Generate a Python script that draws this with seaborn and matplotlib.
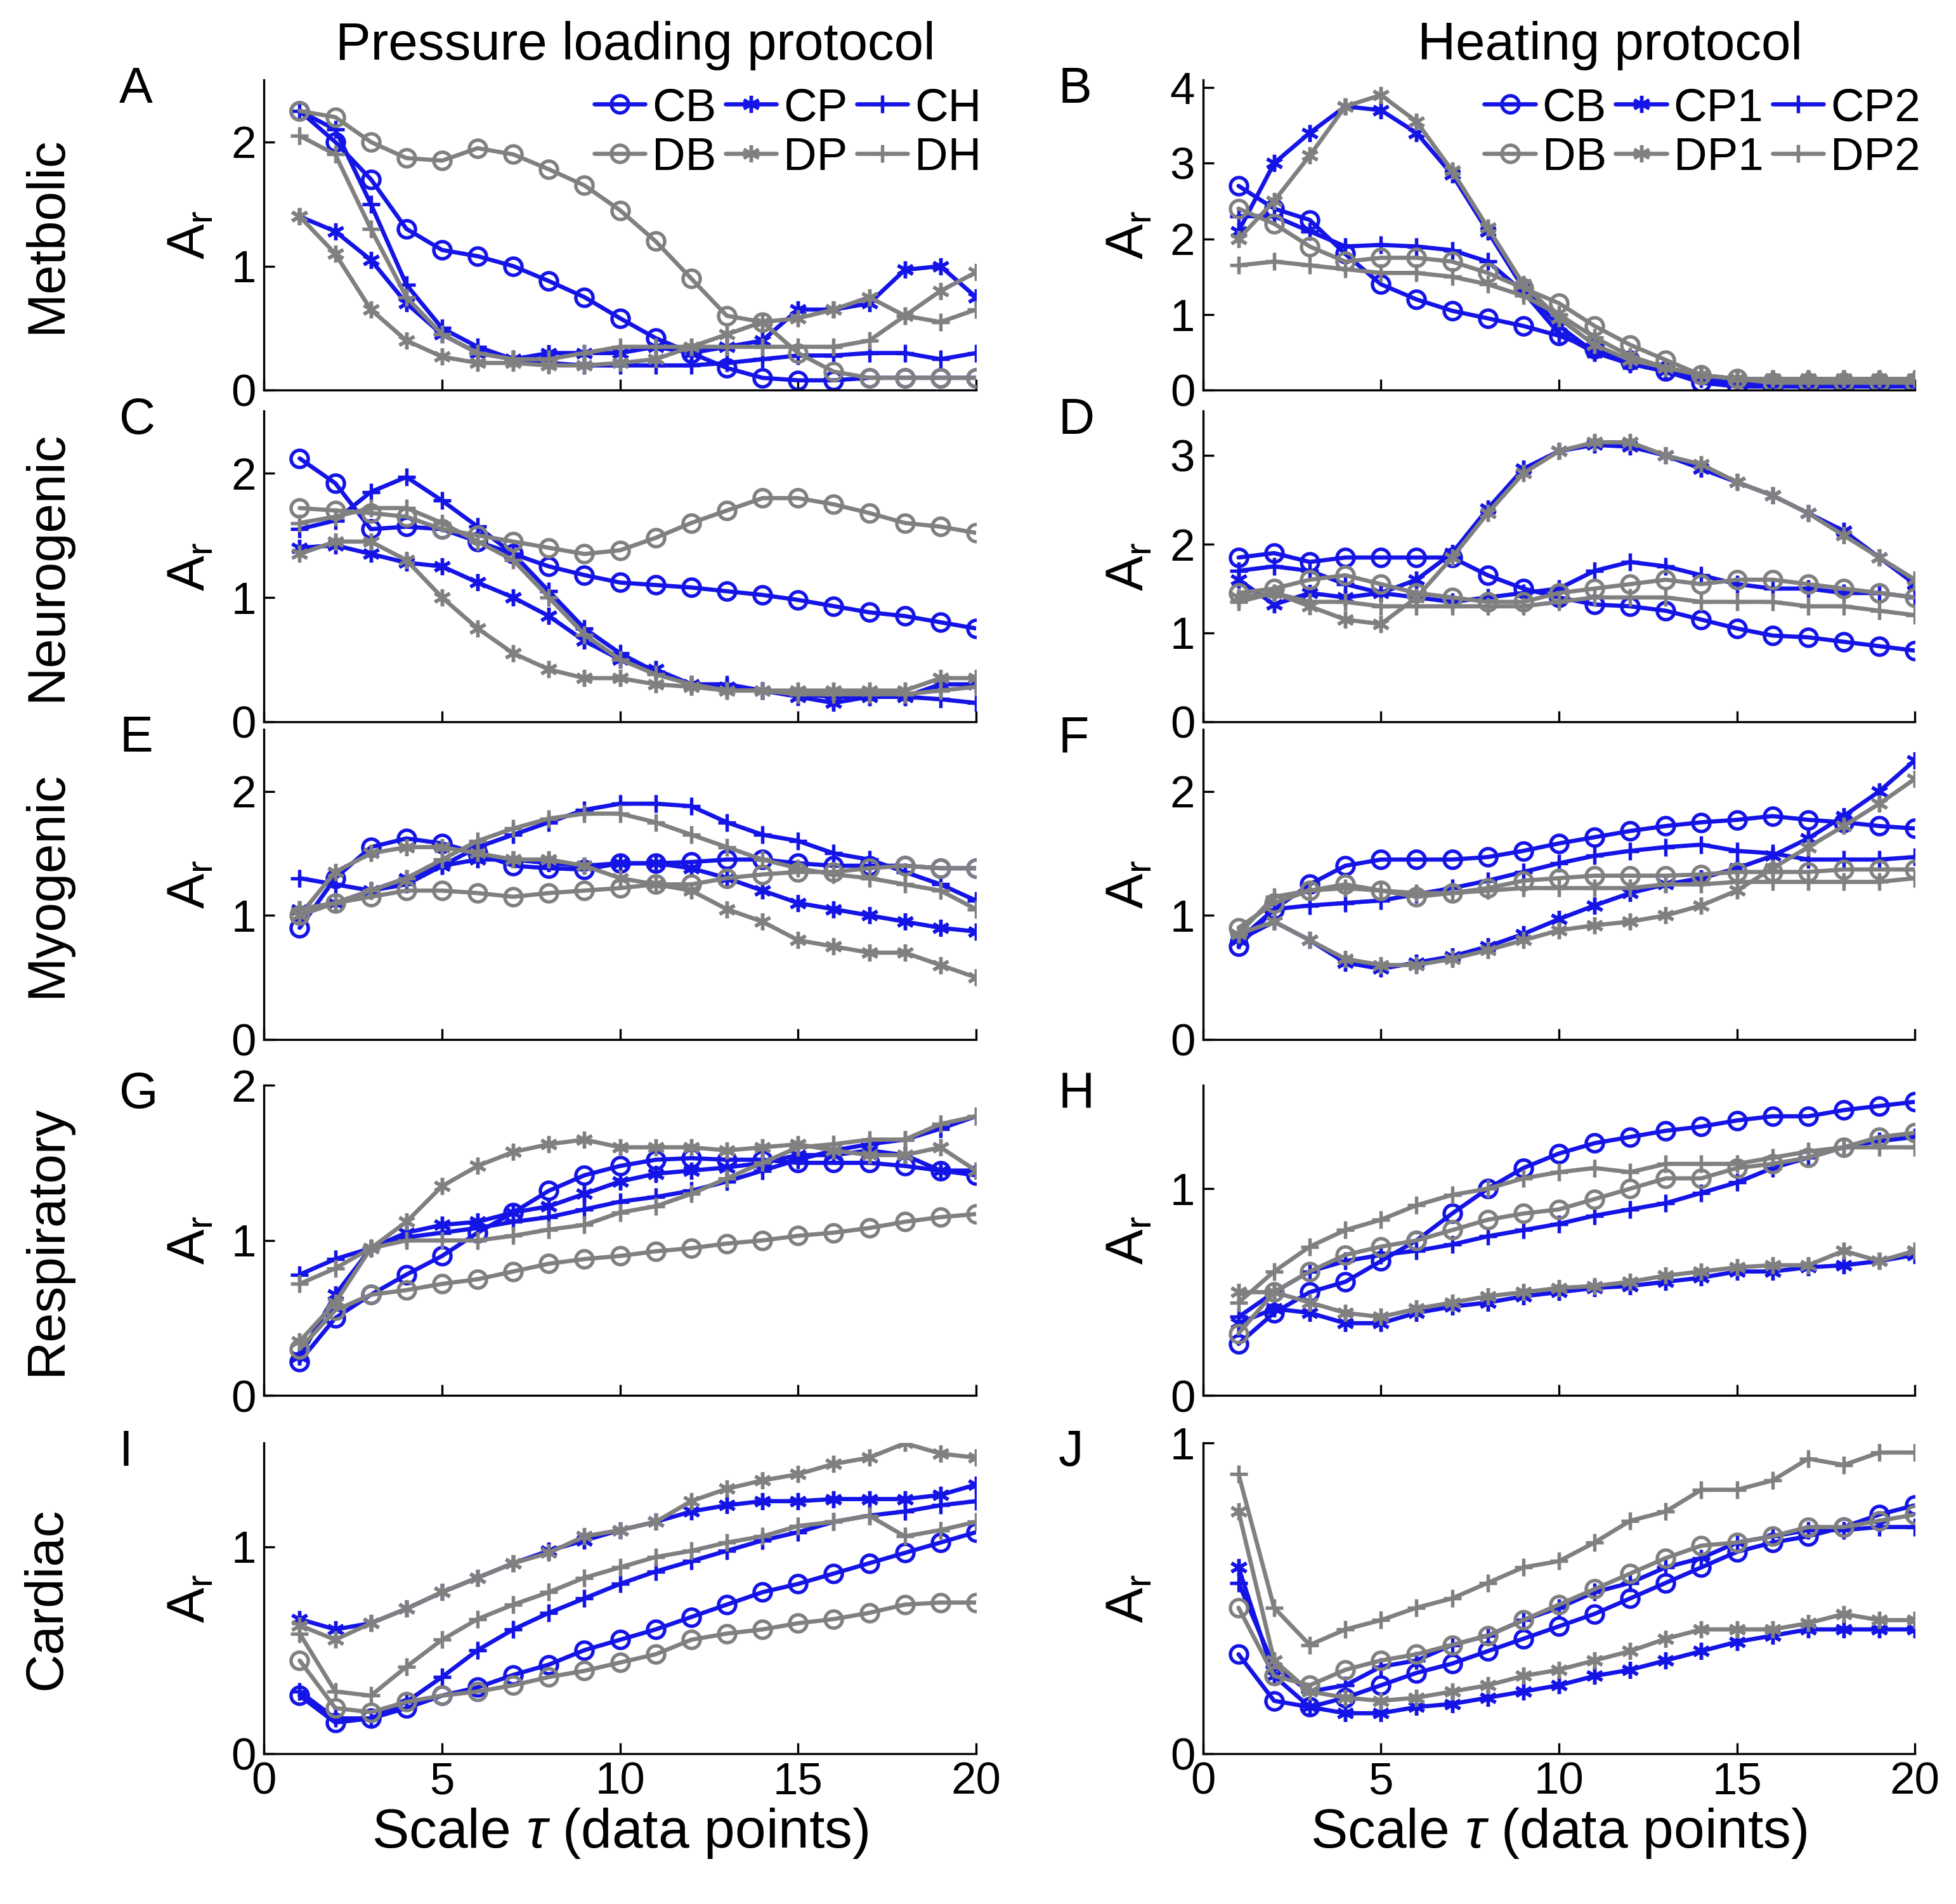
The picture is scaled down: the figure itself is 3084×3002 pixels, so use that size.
import numpy as np
import matplotlib
matplotlib.use("Agg")
import matplotlib.pyplot as plt
import seaborn as sns

sns.set_style("ticks")
plt.rcParams['font.family'] = ['Liberation Sans', 'DejaVu Sans']
plt.rcParams['mathtext.fontset'] = 'custom'
plt.rcParams['mathtext.rm'] = 'Liberation Sans'
plt.rcParams['mathtext.it'] = 'Liberation Sans:italic'
plt.rcParams['text.color'] = 'black'
plt.rcParams['axes.labelcolor'] = 'black'
plt.rcParams['xtick.color'] = 'black'
plt.rcParams['ytick.color'] = 'black'
plt.rcParams['axes.edgecolor'] = 'black'

tau = np.arange(1, 21)

# series names per column
names_left = ["CB", "CP", "CH", "DB", "DP", "DH"]
names_right = ["CB", "CP1", "CP2", "DB", "DP1", "DP2"]

# ---- panel A : metabolic, pressure loading
A = {
    "CB": [2.25, 2.0, 1.7, 1.3, 1.13, 1.08, 1.0, 0.88, 0.75, 0.58, 0.42, 0.3, 0.18, 0.1, 0.08, 0.08, 0.1, 0.1, 0.1, 0.1],
    "CP": [1.4, 1.28, 1.05, 0.7, 0.45, 0.3, 0.25, 0.3, 0.3, 0.3, 0.35, 0.3, 0.35, 0.4, 0.65, 0.65, 0.7, 0.97, 1.0, 0.75],
    "CH": [2.25, 2.1, 1.5, 0.85, 0.5, 0.35, 0.25, 0.22, 0.2, 0.2, 0.2, 0.2, 0.22, 0.25, 0.28, 0.28, 0.3, 0.3, 0.25, 0.3],
    "DB": [2.25, 2.2, 2.0, 1.87, 1.85, 1.95, 1.9, 1.78, 1.65, 1.45, 1.2, 0.9, 0.6, 0.55, 0.3, 0.15, 0.1, 0.1, 0.1, 0.1],
    "DP": [1.4, 1.1, 0.65, 0.4, 0.27, 0.22, 0.22, 0.2, 0.2, 0.22, 0.25, 0.35, 0.45, 0.55, 0.58, 0.65, 0.75, 0.6, 0.8, 0.95],
    "DH": [2.05, 1.9, 1.3, 0.75, 0.45, 0.3, 0.25, 0.25, 0.3, 0.35, 0.35, 0.35, 0.35, 0.35, 0.35, 0.35, 0.4, 0.6, 0.55, 0.65],
}
# ---- panel B : metabolic, heating
B = {
    "CB": [2.7, 2.4, 2.25, 1.8, 1.4, 1.2, 1.05, 0.95, 0.85, 0.72, 0.55, 0.4, 0.25, 0.1, 0.05, 0.05, 0.05, 0.05, 0.05, 0.05],
    "CP1": [2.1, 3.0, 3.4, 3.75, 3.7, 3.4, 2.85, 2.1, 1.35, 0.85, 0.5, 0.35, 0.25, 0.2, 0.15, 0.15, 0.15, 0.15, 0.15, 0.15],
    "CP2": [2.3, 2.3, 2.1, 1.9, 1.92, 1.9, 1.85, 1.7, 1.3, 0.75, 0.5, 0.35, 0.25, 0.15, 0.1, 0.1, 0.1, 0.1, 0.1, 0.1],
    "DB": [2.4, 2.2, 1.9, 1.7, 1.75, 1.75, 1.7, 1.55, 1.35, 1.15, 0.85, 0.6, 0.4, 0.2, 0.15, 0.1, 0.1, 0.1, 0.1, 0.1],
    "DP1": [2.0, 2.5, 3.1, 3.75, 3.9, 3.55, 2.9, 2.15, 1.4, 0.95, 0.6, 0.4, 0.3, 0.2, 0.15, 0.15, 0.15, 0.15, 0.15, 0.15],
    "DP2": [1.65, 1.7, 1.65, 1.6, 1.55, 1.55, 1.5, 1.4, 1.25, 1.0, 0.7, 0.45, 0.3, 0.2, 0.15, 0.15, 0.15, 0.15, 0.15, 0.15],
}
# ---- panel C : neurogenic, pressure loading
C = {
    "CB": [2.12, 1.92, 1.55, 1.57, 1.55, 1.45, 1.35, 1.25, 1.18, 1.12, 1.1, 1.08, 1.05, 1.02, 0.98, 0.93, 0.88, 0.85, 0.8, 0.75],
    "CP": [1.4, 1.42, 1.35, 1.28, 1.25, 1.12, 1.0, 0.85, 0.65, 0.5, 0.42, 0.3, 0.28, 0.25, 0.2, 0.15, 0.2, 0.2, 0.3, 0.3],
    "CH": [1.55, 1.62, 1.85, 1.97, 1.78, 1.57, 1.35, 1.05, 0.75, 0.55, 0.4, 0.3, 0.3, 0.25, 0.22, 0.2, 0.2, 0.2, 0.18, 0.15],
    "DB": [1.72, 1.7, 1.68, 1.65, 1.55, 1.5, 1.45, 1.4, 1.35, 1.38, 1.48, 1.6, 1.7, 1.8, 1.8, 1.75, 1.68, 1.6, 1.57, 1.52],
    "DP": [1.35, 1.45, 1.45, 1.3, 1.0, 0.75, 0.55, 0.42, 0.35, 0.35, 0.3, 0.28, 0.25, 0.25, 0.25, 0.25, 0.25, 0.25, 0.35, 0.35],
    "DH": [1.6, 1.65, 1.72, 1.72, 1.6, 1.45, 1.3, 1.0, 0.7, 0.5, 0.38, 0.3, 0.25, 0.25, 0.22, 0.22, 0.22, 0.22, 0.25, 0.28],
}
# ---- panel D : neurogenic, heating
D = {
    "CB": [1.85, 1.9, 1.8, 1.85, 1.85, 1.85, 1.85, 1.65, 1.5, 1.4, 1.32, 1.3, 1.25, 1.15, 1.05, 0.97, 0.95, 0.9, 0.85, 0.8],
    "CP1": [1.6, 1.32, 1.45, 1.4, 1.45, 1.6, 1.9, 2.4, 2.85, 3.05, 3.12, 3.1, 3.0, 2.85, 2.7, 2.55, 2.35, 2.15, 1.85, 1.55],
    "CP2": [1.7, 1.75, 1.7, 1.55, 1.45, 1.4, 1.35, 1.4, 1.45, 1.5, 1.7, 1.8, 1.75, 1.65, 1.55, 1.5, 1.5, 1.45, 1.45, 1.4],
    "DB": [1.45, 1.5, 1.6, 1.65, 1.55, 1.45, 1.4, 1.35, 1.35, 1.45, 1.5, 1.55, 1.6, 1.55, 1.6, 1.6, 1.55, 1.5, 1.45, 1.4],
    "DP1": [1.4, 1.45, 1.3, 1.15, 1.1, 1.4, 1.85, 2.35, 2.8, 3.05, 3.15, 3.15, 3.0, 2.9, 2.7, 2.55, 2.35, 2.1, 1.85, 1.6],
    "DP2": [1.35, 1.45, 1.35, 1.35, 1.3, 1.3, 1.3, 1.3, 1.3, 1.35, 1.4, 1.4, 1.4, 1.35, 1.35, 1.35, 1.3, 1.3, 1.25, 1.2],
}
# ---- panel E : myogenic, pressure loading
E = {
    "CB": [0.9, 1.3, 1.55, 1.62, 1.58, 1.5, 1.4, 1.38, 1.37, 1.42, 1.42, 1.43, 1.45, 1.45, 1.42, 1.4, 1.4, 1.4, 1.38, 1.38],
    "CP": [1.05, 1.1, 1.2, 1.3, 1.4, 1.45, 1.45, 1.42, 1.4, 1.42, 1.42, 1.38, 1.3, 1.2, 1.1, 1.05, 1.0, 0.95, 0.9, 0.87],
    "CH": [1.3, 1.25, 1.2, 1.25, 1.4, 1.55, 1.65, 1.75, 1.85, 1.9, 1.9, 1.88, 1.75, 1.65, 1.6, 1.5, 1.45, 1.35, 1.25, 1.12],
    "DB": [1.0, 1.1, 1.15, 1.2, 1.2, 1.18, 1.15, 1.18, 1.2, 1.22, 1.25, 1.25, 1.3, 1.33, 1.35, 1.35, 1.38, 1.4, 1.38, 1.38],
    "DP": [1.0, 1.35, 1.5, 1.55, 1.55, 1.5, 1.45, 1.45, 1.4, 1.3, 1.25, 1.2, 1.05, 0.95, 0.8, 0.75, 0.7, 0.7, 0.6, 0.5],
    "DH": [1.05, 1.1, 1.2, 1.3, 1.45, 1.6, 1.7, 1.78, 1.82, 1.82, 1.75, 1.65, 1.55, 1.45, 1.38, 1.33, 1.3, 1.25, 1.2, 1.05],
}
# ---- panel F : myogenic, heating
F = {
    "CB": [0.75, 1.05, 1.25, 1.4, 1.45, 1.45, 1.45, 1.47, 1.52, 1.58, 1.63, 1.68, 1.72, 1.75, 1.77, 1.8, 1.77, 1.75, 1.72, 1.7],
    "CP1": [0.8, 0.95, 0.8, 0.62, 0.57, 0.62, 0.67, 0.75, 0.85, 0.97, 1.08, 1.18, 1.25, 1.3, 1.38, 1.48, 1.62, 1.8, 2.0, 2.25],
    "CP2": [0.8, 1.05, 1.08, 1.1, 1.12, 1.17, 1.22, 1.28, 1.35, 1.42, 1.48, 1.52, 1.55, 1.57, 1.52, 1.5, 1.45, 1.45, 1.45, 1.47],
    "DB": [0.9, 1.1, 1.2, 1.25, 1.2, 1.15, 1.18, 1.22, 1.28, 1.3, 1.32, 1.32, 1.32, 1.33, 1.35, 1.35, 1.35, 1.37, 1.37, 1.37],
    "DP1": [0.85, 0.95, 0.8, 0.65, 0.6, 0.6, 0.65, 0.72, 0.8, 0.88, 0.92, 0.95, 1.0, 1.08, 1.2, 1.38, 1.55, 1.72, 1.9, 2.1],
    "DP2": [0.85, 1.15, 1.2, 1.22, 1.2, 1.18, 1.18, 1.2, 1.22, 1.22, 1.22, 1.22, 1.25, 1.25, 1.27, 1.27, 1.27, 1.27, 1.27, 1.3],
}
# ---- panel G : respiratory, pressure loading
G = {
    "CB": [0.22, 0.5, 0.65, 0.78, 0.9, 1.05, 1.18, 1.32, 1.42, 1.48, 1.52, 1.53, 1.52, 1.52, 1.5, 1.5, 1.5, 1.48, 1.45, 1.42],
    "CP": [0.25, 0.65, 0.95, 1.05, 1.1, 1.12, 1.18, 1.22, 1.3, 1.38, 1.43, 1.45, 1.47, 1.5, 1.55, 1.55, 1.58, 1.55, 1.45, 1.45],
    "CH": [0.78, 0.88, 0.95, 1.02, 1.05, 1.08, 1.12, 1.15, 1.2, 1.25, 1.28, 1.32, 1.38, 1.45, 1.52, 1.58, 1.62, 1.65, 1.72, 1.8],
    "DB": [0.3, 0.55, 0.65, 0.68, 0.72, 0.75, 0.8, 0.85, 0.88, 0.9, 0.93, 0.95, 0.98, 1.0, 1.03, 1.05, 1.08, 1.12, 1.15, 1.17],
    "DP": [0.35, 0.6, 0.95, 1.12, 1.35, 1.48, 1.57, 1.62, 1.65, 1.6, 1.6, 1.6, 1.58, 1.6, 1.62, 1.58, 1.55, 1.55, 1.6, 1.45],
    "DH": [0.72, 0.82, 0.95, 1.0, 1.0, 1.0, 1.03, 1.07, 1.1, 1.18, 1.22, 1.3, 1.4, 1.5, 1.6, 1.62, 1.65, 1.65, 1.75, 1.8],
}
# ---- panel H : respiratory, heating
H = {
    "CB": [0.25, 0.4, 0.5, 0.55, 0.65, 0.75, 0.88, 1.0, 1.1, 1.17, 1.22, 1.25, 1.28, 1.3, 1.33, 1.35, 1.35, 1.38, 1.4, 1.42],
    "CP1": [0.35, 0.42, 0.4, 0.35, 0.35, 0.4, 0.43, 0.45, 0.48, 0.5, 0.52, 0.53, 0.55, 0.57, 0.6, 0.6, 0.62, 0.63, 0.65, 0.68],
    "CP2": [0.38, 0.5, 0.6, 0.65, 0.68, 0.7, 0.73, 0.77, 0.8, 0.83, 0.87, 0.9, 0.93, 0.98, 1.03, 1.1, 1.15, 1.2, 1.23, 1.25],
    "DB": [0.3, 0.5, 0.6, 0.68, 0.72, 0.75, 0.8, 0.85, 0.88, 0.9, 0.95, 1.0, 1.05, 1.05, 1.1, 1.12, 1.15, 1.2, 1.25, 1.27],
    "DP1": [0.5, 0.5, 0.45, 0.4, 0.38, 0.42, 0.45, 0.48, 0.5, 0.52, 0.53, 0.55, 0.58, 0.6, 0.62, 0.63, 0.63, 0.7, 0.65, 0.7],
    "DP2": [0.45, 0.6, 0.72, 0.8, 0.85, 0.92, 0.97, 1.0, 1.05, 1.08, 1.1, 1.08, 1.12, 1.12, 1.12, 1.15, 1.18, 1.2, 1.2, 1.2],
}
# ---- panel I : cardiac, pressure loading
I = {
    "CB": [0.28, 0.15, 0.17, 0.22, 0.28, 0.32, 0.38, 0.43, 0.5, 0.55, 0.6, 0.66, 0.72, 0.78, 0.82, 0.87, 0.92, 0.97, 1.02, 1.07],
    "CP": [0.65, 0.6, 0.63, 0.7, 0.78, 0.85, 0.92, 0.98, 1.03, 1.08, 1.12, 1.17, 1.2, 1.22, 1.22, 1.23, 1.23, 1.23, 1.25, 1.3],
    "CH": [0.3, 0.17, 0.17, 0.25, 0.37, 0.5, 0.6, 0.68, 0.75, 0.82, 0.88, 0.93, 0.98, 1.03, 1.07, 1.12, 1.15, 1.17, 1.2, 1.22],
    "DB": [0.45, 0.22, 0.2, 0.25, 0.28, 0.3, 0.33, 0.37, 0.4, 0.44, 0.48, 0.55, 0.58, 0.6, 0.63, 0.65, 0.68, 0.72, 0.73, 0.73],
    "DP": [0.62, 0.55, 0.63, 0.7, 0.78, 0.85, 0.92, 0.97, 1.05, 1.08, 1.12, 1.22, 1.28, 1.32, 1.35, 1.4, 1.43, 1.5, 1.45, 1.43],
    "DH": [0.58, 0.3, 0.28, 0.42, 0.55, 0.65, 0.72, 0.78, 0.85, 0.9, 0.95, 0.98, 1.02, 1.05, 1.1, 1.12, 1.15, 1.05, 1.08, 1.12],
}
# ---- panel J : cardiac, heating
J = {
    "CB": [0.32, 0.17, 0.15, 0.18, 0.22, 0.26, 0.29, 0.33, 0.37, 0.41, 0.45, 0.5, 0.55, 0.6, 0.65, 0.68, 0.7, 0.73, 0.77, 0.8],
    "CP1": [0.6, 0.25, 0.15, 0.13, 0.13, 0.15, 0.16, 0.18, 0.2, 0.22, 0.25, 0.27, 0.3, 0.33, 0.36, 0.38, 0.4, 0.4, 0.4, 0.4],
    "CP2": [0.55, 0.28, 0.2, 0.22, 0.28, 0.3, 0.35, 0.38, 0.43, 0.47, 0.52, 0.55, 0.6, 0.63, 0.68, 0.7, 0.72, 0.72, 0.73, 0.73],
    "DB": [0.47, 0.25, 0.22, 0.27, 0.3, 0.32, 0.35, 0.38, 0.43, 0.48, 0.53, 0.58, 0.63, 0.67, 0.68, 0.7, 0.73, 0.73, 0.75, 0.77],
    "DP1": [0.78, 0.3, 0.2, 0.18, 0.17, 0.18, 0.2, 0.22, 0.25, 0.27, 0.3, 0.33, 0.37, 0.4, 0.4, 0.4, 0.42, 0.45, 0.43, 0.43],
    "DP2": [0.9, 0.47, 0.35, 0.4, 0.43, 0.47, 0.5, 0.55, 0.6, 0.62, 0.68, 0.75, 0.78, 0.85, 0.85, 0.88, 0.95, 0.93, 0.97, 0.97],
}

row_labels = ["Metbolic", "Neurogenic", "Myogenic", "Respiratory", "Cardiac"]
panels = [[A, B], [C, D], [E, F], [G, H], [I, J]]
letters = [["A", "B"], ["C", "D"], ["E", "F"], ["G", "H"], ["I", "J"]]
ylims = [[(0, 2.5), (0, 4.1)], [(0, 2.5), (0, 3.5)], [(0, 2.5), (0, 2.5)],
         [(0, 2.0), (0, 1.5)], [(0, 1.5), (0, 1.0)]]
yticks = [[[0, 1, 2], [0, 1, 2, 3, 4]], [[0, 1, 2], [0, 1, 2, 3]], [[0, 1, 2], [0, 1, 2]],
          [[0, 1, 2], [0, 1]], [[0, 1], [0, 1]]]

BLUE = "#1414e6"
GRAY = "#808080"
ASTER = (6, 2, 0)
styles = [(BLUE, "o"), (BLUE, ASTER), (BLUE, "+"), (GRAY, "o"), (GRAY, ASTER), (GRAY, "+")]

fig = plt.figure(figsize=(10.28, 10.007), dpi=300)
col_left = [0.135, 0.615]
row_bottom = [0.795, 0.621, 0.454, 0.267, 0.079]
W, Hh = 0.364, 0.163

for r in range(5):
    for c in range(2):
        ax = fig.add_axes([col_left[c], row_bottom[r], W, Hh])
        data = panels[r][c]
        names = names_left if c == 0 else names_right
        for name, (col, mk) in zip(names, styles):
            kw = dict(markerfacecolor="none") if mk == "o" else {}
            sns.lineplot(x=tau, y=data[name], color=col, marker=mk, markersize=6.5,
                         markeredgecolor=col, markeredgewidth=1.3, linewidth=1.6,
                         label=name, ax=ax, legend=False, **kw)
        ax.set_xlim(0, 20)
        ax.set_ylim(*ylims[r][c])
        ax.set_xticks([0, 5, 10, 15, 20])
        ax.set_yticks(yticks[r][c])
        ax.tick_params(direction="in", labelsize=17, length=4, width=0.8, pad=3)
        for s in ["top", "right"]:
            ax.spines[s].set_visible(False)
        for s in ["left", "bottom"]:
            ax.spines[s].set_linewidth(0.8)
        ax.set_ylabel(r"A$_\mathrm{r}$", fontsize=20, labelpad=6)
        if r < 4:
            ax.set_xticklabels([])
        else:
            ax.set_xlabel(r"Scale $\tau$ (data points)", fontsize=21, labelpad=1)
        fig.text(col_left[c] - 0.074, row_bottom[r] + Hh - 0.005, letters[r][c],
                 fontsize=19, ha="left", va="center")
        if r == 0:
            h, l = ax.get_legend_handles_labels()
            order = [0, 3, 1, 4, 2, 5]
            ax.legend([h[i] for i in order], [l[i] for i in order], ncol=3, frameon=False,
                      loc="upper right", bbox_to_anchor=(1.04, 1.05), fontsize=17.5,
                      handlelength=1.1, handletextpad=0.15, columnspacing=0.2,
                      labelspacing=0.15, borderaxespad=0.1)
    fig.text(0.024, row_bottom[r] + Hh / 2, row_labels[r], rotation=90,
             fontsize=20, ha="center", va="center")

fig.text(0.325, 0.976, "Pressure loading protocol", fontsize=20, ha="center", va="center")
fig.text(0.823, 0.976, "Heating protocol", fontsize=20, ha="center", va="center")

fig.savefig("out.png", dpi=300)
